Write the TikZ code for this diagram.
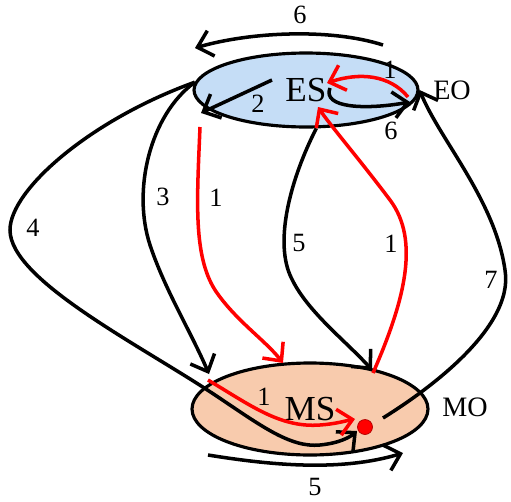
\documentclass[tikz,border=0pt]{standalone}
\usepackage{fontspec}
\setmainfont{Liberation Serif}
\usetikzlibrary{arrows.meta, shapes.geometric}
\definecolor{esblue}{RGB}{197,221,246}
\definecolor{mspeach}{RGB}{248,203,173}

\begin{document}
\begin{tikzpicture}[
  x=0.02cm, y=-0.02cm,
  state/.style={draw, ellipse, line width=1.8pt, inner sep=0pt,
                font=\fontsize{20}{20}\selectfont},
  arr/.style={-{Straight Barb[length=8pt, width=15pt]}, line width=2pt},
  redarr/.style={arr, draw=red},
  lbl/.style={font=\fontsize{15}{15}\selectfont, inner sep=1pt},
  side/.style={font=\fontsize{16}{16}\selectfont, inner sep=1pt},
  dot/.style={circle, fill=red, draw=red!70!black, inner sep=0pt,
              minimum size=0.3cm},
]
\useasboundingbox (0,0) rectangle (511,501);

% States
\node[state, fill=esblue, minimum width=4.48cm, minimum height=1.48cm] (es) at (306,90) {ES};
\node[state, fill=mspeach, minimum width=4.72cm, minimum height=1.84cm] (ms) at (310,409) {MS};
\node[side] (eo) at (452,90) {EO};
\node[side] (mo) at (465,407) {MO};

% Free ends
\coordinate (t6a) at (383,45);  \coordinate (t6b) at (195,48);
\coordinate (in6a) at (330,88); \coordinate (in6b) at (410,102);
\coordinate (in1a) at (408,97); \coordinate (in1b) at (327,83);
\coordinate (e2a) at (272,80);  \coordinate (e2b) at (201,113);
\coordinate (r1a) at (200,127); \coordinate (r1b) at (283,363);
\coordinate (e3b) at (209,374);
\coordinate (e5b) at (372,370);
\coordinate (r2a) at (373,373); \coordinate (r2b) at (318,107);
\coordinate (e7a) at (383,418);
\coordinate (m1a) at (208,380); \coordinate (m1b) at (355,419);
\coordinate (e4b) at (357,431);
\coordinate (b5a) at (208,455); \coordinate (b5b) at (403,453);

% Transitions around ES
\draw[arr] (t6a) .. controls (330,28) and (250,32) .. (t6b);
\draw[arr] (in6a) .. controls (322,108) and (365,110) .. (in6b);
\draw[redarr] (in1a) .. controls (390,75) and (360,72) .. (in1b);
\draw[arr] (e2a) -- (e2b);

% ES -> MS
\draw[arr] (es.176) .. controls (150,115) and (132,190) .. (150,245)
  .. controls (165,290) and (190,330) .. (e3b);
\draw[arr] (es.176) .. controls (90,120) and (10,190) .. (10,230)
  .. controls (10,280) and (140,345) .. (215,395)
  .. controls (260,425) and (290,448) .. (320,445)
  .. controls (340,443) and (350,437) .. (e4b);
\draw[redarr] (r1a) .. controls (197,200) and (193,255) .. (215,290)
  .. controls (235,320) and (265,340) .. (r1b);
\draw[arr] (es.285) .. controls (290,180) and (275,240) .. (290,275)
  .. controls (305,310) and (345,340) .. (e5b);

% MS -> ES
\draw[redarr] (r2a) .. controls (405,300) and (420,240) .. (390,200)
  .. controls (360,160) and (330,125) .. (r2b);
\draw[arr] (e7a) .. controls (420,395) and (515,330) .. (505,270)
  .. controls (495,200) and (440,140) .. (es.east);

% Inside MS
\draw[redarr] (m1a) .. controls (250,405) and (280,428) .. (320,425)
  .. controls (335,424) and (345,421) .. (m1b);
\draw[arr] (b5a) .. controls (270,465) and (340,472) .. (b5b);
\node[dot] (hit) at (365,427) {};

% Labels
\node[lbl] (l6t) at (300,15) {6};
\node[lbl] (l1t) at (390,70) {1};
\node[lbl] (l2) at (258,104) {2};
\node[lbl] (l6b) at (391,131) {6};
\node[lbl] (l3) at (163,197) {3};
\node[lbl] (l1l) at (216,198) {1};
\node[lbl] (l4) at (33,228) {4};
\node[lbl] (l5) at (299,243) {5};
\node[lbl] (l1r) at (391,244) {1};
\node[lbl] (l7) at (491,280) {7};
\node[lbl] (l1m) at (264,397) {1};
\node[lbl] (l5b) at (315,487) {5};
\end{tikzpicture}
\end{document}
